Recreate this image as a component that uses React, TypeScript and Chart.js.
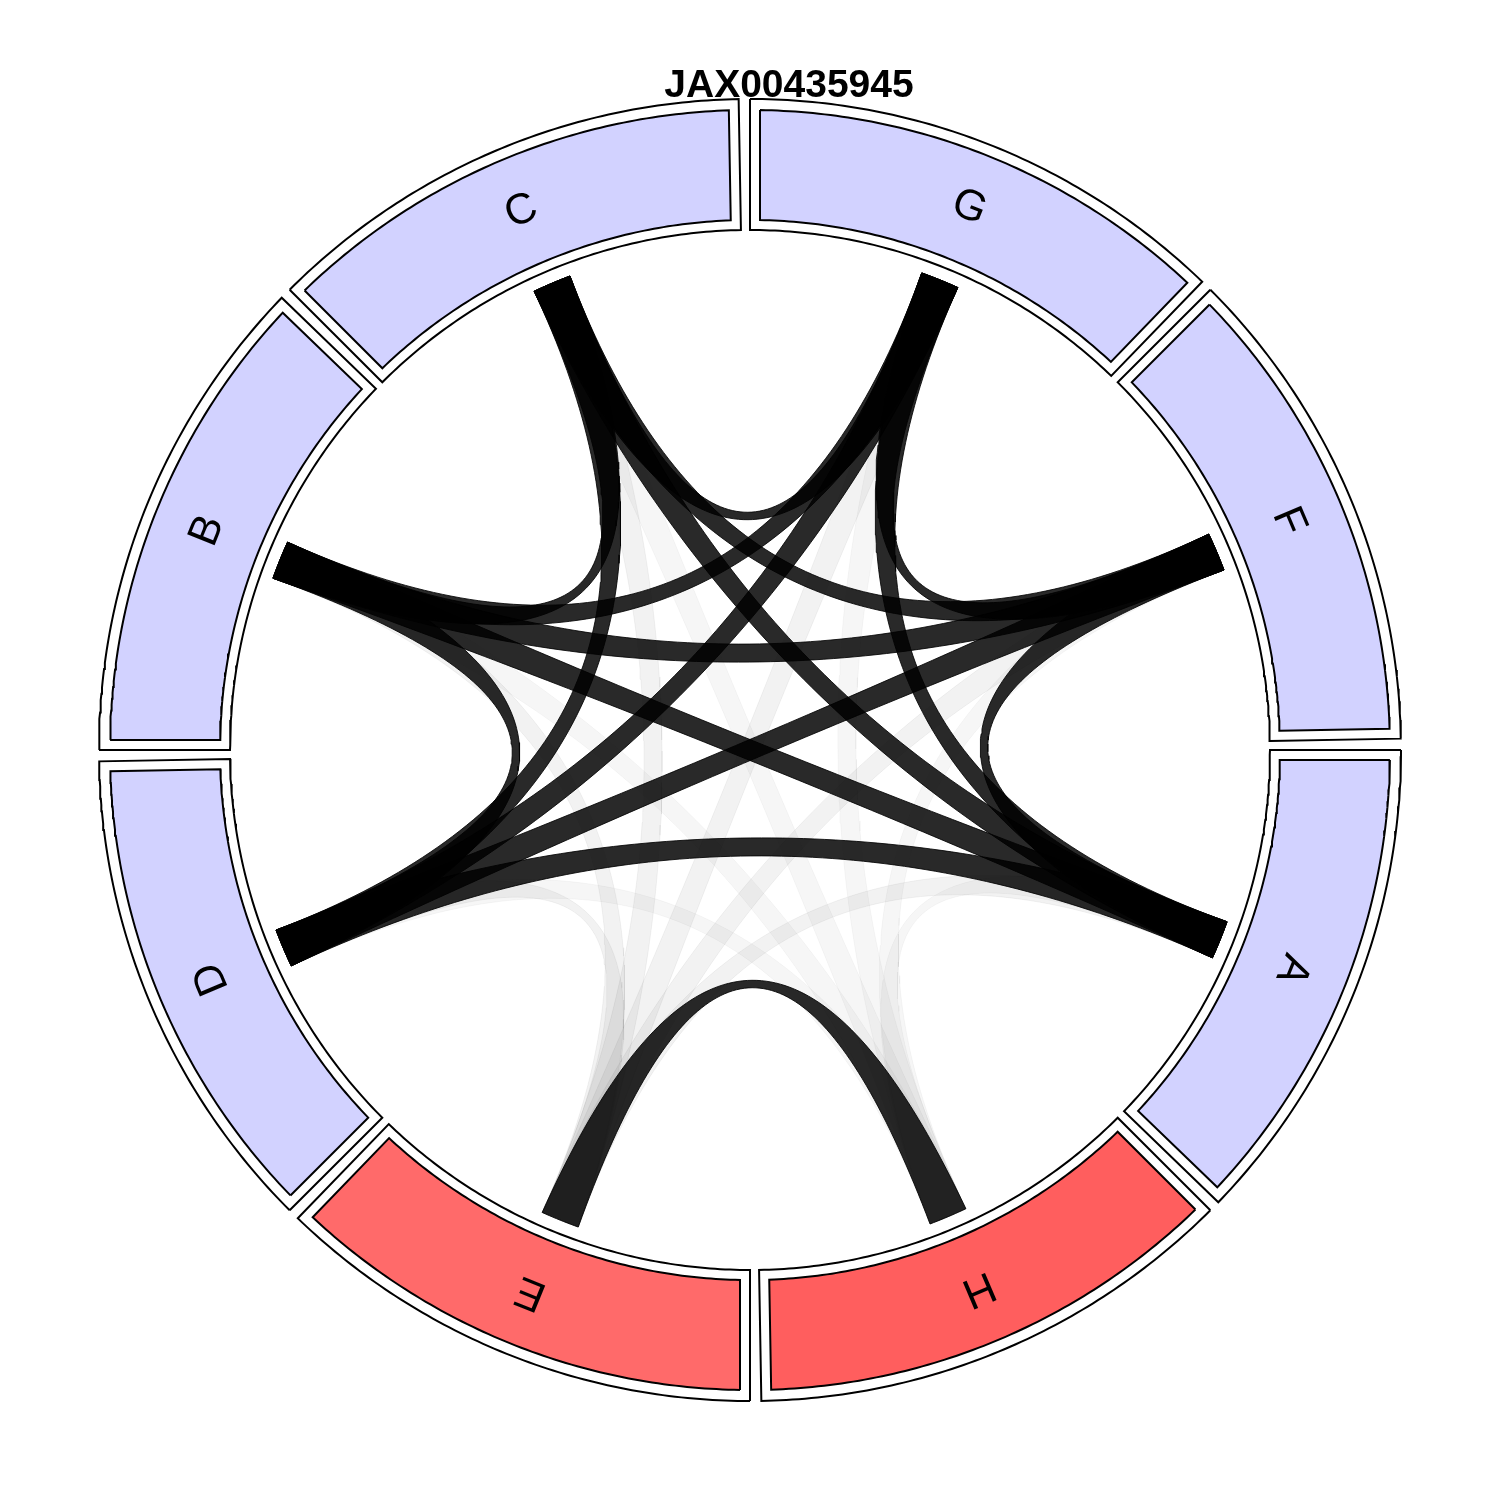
import React, { useEffect, useRef } from 'react';
import { Chart, registerables } from 'chart.js';

Chart.register(...registerables);

// ---------------- data ----------------
const TITLE = 'JAX00435945';
const sectorNames = ['G', 'F', 'A', 'H', 'E', 'D', 'B', 'C'];
const sectorSizes = [1, 1, 1, 1, 1, 1, 1, 1];
const sectorColors = ['#d2d2ff', '#d2d2ff', '#d2d2ff', '#ff5e5e', '#ff6a6a', '#d2d2ff', '#d2d2ff', '#d2d2ff'];

const linkSource = [
  'G', 'G', 'G', 'G', 'G', 'F', 'F', 'F', 'F', 'A', 'A', 'A', 'D', 'D', 'B', 'E',
  'E', 'E', 'E', 'E', 'E', 'E', 'H', 'H', 'H', 'H', 'H', 'H',
];
const linkTarget = [
  'F', 'A', 'D', 'B', 'C', 'A', 'D', 'B', 'C', 'D', 'B', 'C', 'B', 'C', 'C', 'H',
  'G', 'F', 'A', 'D', 'B', 'C', 'G', 'F', 'A', 'D', 'B', 'C',
];
const linkOpacity = [
  0.84, 0.84, 0.84, 0.84, 0.84, 0.84, 0.84, 0.84, 0.84, 0.84, 0.84, 0.84, 0.84, 0.84, 0.84, 0.84,
  0.05, 0.05, 0.05, 0.05, 0.05, 0.05, 0.035, 0.035, 0.035, 0.035, 0.035, 0.035,
];

// ---------------- layout constants ----------------
const GAP_DEG = 1;
const R_FRAME_OUT = 651;
const R_FRAME_IN = 520;
const R_BAND_OUT = 640;
const R_BAND_IN = 530;
const BAND_INSET = 10;
const R_LINK = 507;
const LINK_HALF_DEG = 2.2;
const R_LABEL = 585;

const rad = (d: number) => (d * Math.PI) / 180;
const pt = (r: number, deg: number) => ({ x: r * Math.sin(rad(deg)), y: r * Math.cos(rad(deg)) });

const totalSize = sectorSizes.reduce((a, b) => a + b, 0);
const sectorStart: number[] = [];
const sectorEnd: number[] = [];
{
  let acc = 0;
  const avail = 360 - GAP_DEG * sectorNames.length;
  sectorSizes.forEach((s) => {
    sectorStart.push(acc);
    const span = (s / totalSize) * avail;
    sectorEnd.push(acc + span);
    acc += span + GAP_DEG;
  });
}
const sectorCenter = sectorStart.map((s, i) => (s + sectorEnd[i]) / 2);

function annulus(r0: number, r1: number, a0: number, a1: number, inset: number) {
  const pts: { x: number; y: number }[] = [];
  const n = 80;
  const d1 = inset ? (Math.asin(inset / r1) * 180) / Math.PI : 0;
  const d0 = inset ? (Math.asin(inset / r0) * 180) / Math.PI : 0;
  for (let i = 0; i <= n; i++) {
    const a = a0 + d1 + ((a1 - d1 - (a0 + d1)) * i) / n;
    pts.push(pt(r1, a));
  }
  for (let i = 0; i <= n; i++) {
    const a = a1 - d0 - ((a1 - d0 - (a0 + d0)) * i) / n;
    pts.push(pt(r0, a));
  }
  pts.push(pts[0]);
  return pts;
}

function bezier(p0: { x: number; y: number }, p2: { x: number; y: number }, out: { x: number; y: number }[]) {
  const n = 90;
  for (let i = 1; i <= n; i++) {
    const t = i / n;
    const u = 1 - t;
    out.push({ x: u * u * p0.x + t * t * p2.x, y: u * u * p0.y + t * t * p2.y });
  }
}

function arc(r: number, from: number, to: number, out: { x: number; y: number }[]) {
  const n = 10;
  for (let i = 1; i <= n; i++) out.push(pt(r, from + ((to - from) * i) / n));
}

function ribbon(ci: number, cj: number) {
  const a1 = ci - LINK_HALF_DEG, a2 = ci + LINK_HALF_DEG;
  const b1 = cj - LINK_HALF_DEG, b2 = cj + LINK_HALF_DEG;
  const pts: { x: number; y: number }[] = [pt(R_LINK, a1)];
  arc(R_LINK, a1, a2, pts);
  bezier(pt(R_LINK, a2), pt(R_LINK, b1), pts);
  arc(R_LINK, b1, b2, pts);
  bezier(pt(R_LINK, b2), pt(R_LINK, a1), pts);
  return pts;
}

function buildDatasets() {
  const ds: any[] = [];
  sectorNames.forEach((_, i) => {
    ds.push({
      data: annulus(R_FRAME_IN, R_FRAME_OUT, sectorStart[i], sectorEnd[i], 0),
      showLine: true, fill: 'shape', backgroundColor: '#ffffff', borderColor: '#000000',
      borderWidth: 2, pointRadius: 0, tension: 0, borderJoinStyle: 'miter', order: 3,
    });
    ds.push({
      data: annulus(R_BAND_IN, R_BAND_OUT, sectorStart[i], sectorEnd[i], BAND_INSET),
      showLine: true, fill: 'shape', backgroundColor: sectorColors[i], borderColor: '#000000',
      borderWidth: 2, pointRadius: 0, tension: 0, borderJoinStyle: 'miter', order: 2,
    });
  });
  linkSource.forEach((s, k) => {
    const i = sectorNames.indexOf(s);
    const j = sectorNames.indexOf(linkTarget[k]);
    const a = linkOpacity[k];
    ds.push({
      data: ribbon(sectorCenter[i], sectorCenter[j]),
      showLine: true, fill: 'shape', backgroundColor: `rgba(0,0,0,${a})`,
      borderColor: `rgba(0,0,0,${a})`, borderWidth: 1, pointRadius: 0, tension: 0, order: 1,
    });
  });
  return ds;
}

const textPlugin = {
  id: 'chordText',
  afterDatasetsDraw(chart: any) {
    const { ctx, scales } = chart;
    const xs = scales.x, ys = scales.y;
    ctx.save();
    ctx.fillStyle = '#000';
    ctx.textAlign = 'center';
    ctx.textBaseline = 'middle';
    ctx.font = "43px 'Liberation Sans', Arial, sans-serif";
    sectorNames.forEach((name, i) => {
      const p = pt(R_LABEL, sectorCenter[i]);
      ctx.save();
      ctx.translate(xs.getPixelForValue(p.x), ys.getPixelForValue(p.y));
      ctx.rotate(rad(sectorCenter[i]));
      ctx.fillText(name, 0, 0);
      ctx.restore();
    });
    ctx.font = "bold 39px 'Liberation Sans', Arial, sans-serif";
    ctx.textBaseline = 'alphabetic';
    ctx.fillText(TITLE, xs.getPixelForValue(39), ys.getPixelForValue(653));
    ctx.restore();
  },
};

export default function App() {
  const ref = useRef<HTMLCanvasElement | null>(null);
  useEffect(() => {
    if (!ref.current) return;
    const chart = new Chart(ref.current, {
      type: 'scatter',
      data: { datasets: buildDatasets() },
      options: {
        responsive: false,
        animation: false,
        devicePixelRatio: 1,
        events: [],
        layout: { padding: 0 },
        plugins: { legend: { display: false }, tooltip: { enabled: false }, title: { display: false } },
        scales: {
          x: { type: 'linear', min: -750, max: 750, display: false },
          y: { type: 'linear', min: -750, max: 750, display: false },
        },
      },
      plugins: [textPlugin],
    } as any);
    return () => chart.destroy();
  }, []);
  return (
    <div style={{ position: 'absolute', left: 0, top: 0, width: 1500, height: 1500, background: '#ffffff' }}>
      <canvas ref={ref} width={1500} height={1500} />
    </div>
  );
}
